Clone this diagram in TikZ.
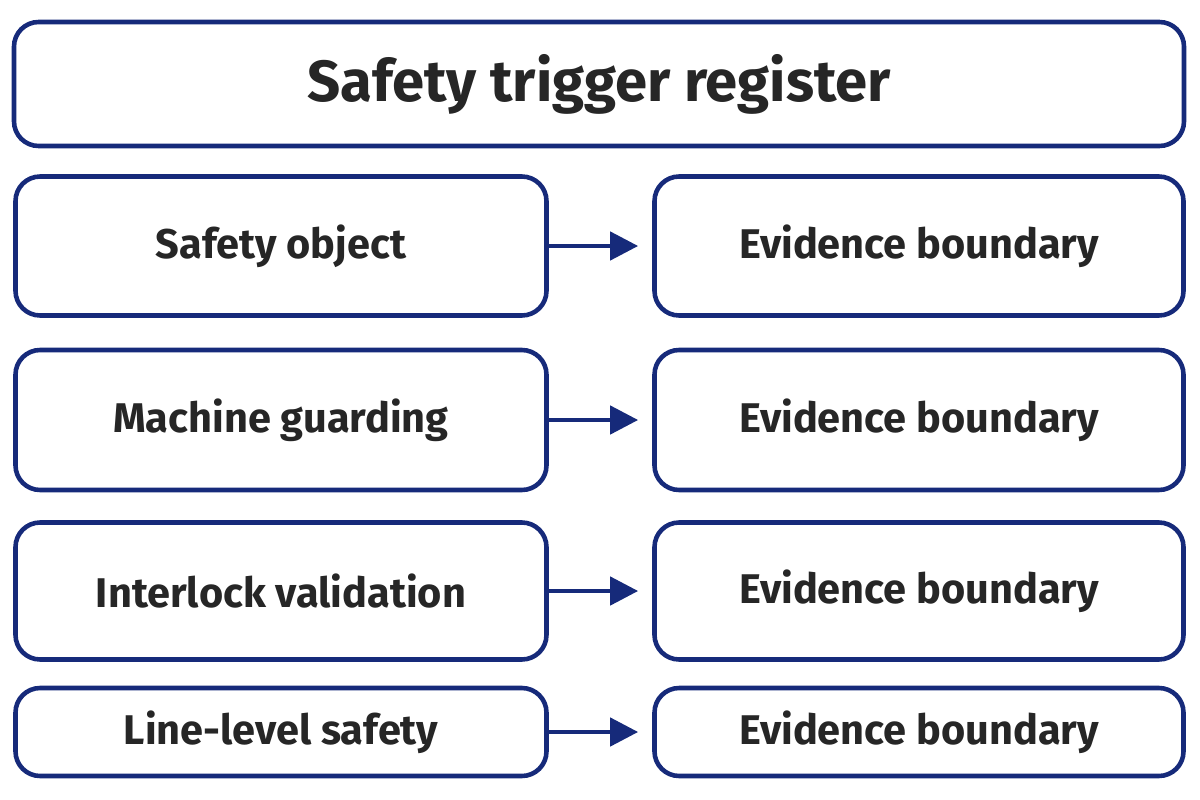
\documentclass[tikz,border=0pt]{standalone}
\usepackage{fontspec}
\setmainfont{Fira Sans}
\usetikzlibrary{arrows.meta}
\definecolor{navy}{RGB}{22,42,122}
\begin{document}
\begin{tikzpicture}
      [x=0.01cm,y=-0.01cm,
       box/.style={draw=navy,line width=1.3pt,rounded corners=7pt,fill=white,font=\bfseries\fontsize{11.8}{14}\selectfont,text=black!85},
       link/.style={draw=navy,line width=1.3pt,-{Triangle[length=8pt,width=8pt]}}]
	\path[use as bounding box] (0,0) rectangle (1200,800);
	\node (title)[box,minimum width=1170*0.01cm,minimum height=124*0.01cm,font=\bfseries\fontsize{16.5}{20}\selectfont] at (599,84) {Safety trigger register};

	\node (so) [box,minimum width=531*0.01cm,minimum height=139*0.01cm] at (281,246) {Safety object};
	\node (mg) [box,minimum width=531*0.01cm,minimum height=140*0.01cm] at (281,420) {Machine guarding};
	\node (iv) [box,minimum width=531*0.01cm,minimum height=137*0.01cm] at (281,591) {Interlock validation};
	\node (ll) [box,minimum width=531*0.01cm,minimum height=88*0.01cm]  at (281,732) {Line-level safety};

	\node (eb1)[box,minimum width=529*0.01cm,minimum height=139*0.01cm] at (919,246) {Evidence boundary};
	\node (eb2)[box,minimum width=529*0.01cm,minimum height=140*0.01cm] at (919,420) {Evidence boundary};
	\node (eb3)[box,minimum width=529*0.01cm,minimum height=137*0.01cm] at (919,591) {Evidence boundary};
	\node (eb4)[box,minimum width=529*0.01cm,minimum height=88*0.01cm]  at (919,732) {Evidence boundary};

	\foreach \from/\to in {so/eb1,mg/eb2,iv/eb3,ll/eb4}
	  \draw[link] (\from) -- ([xshift=-4pt]\to.west);
\end{tikzpicture}
\end{document}
